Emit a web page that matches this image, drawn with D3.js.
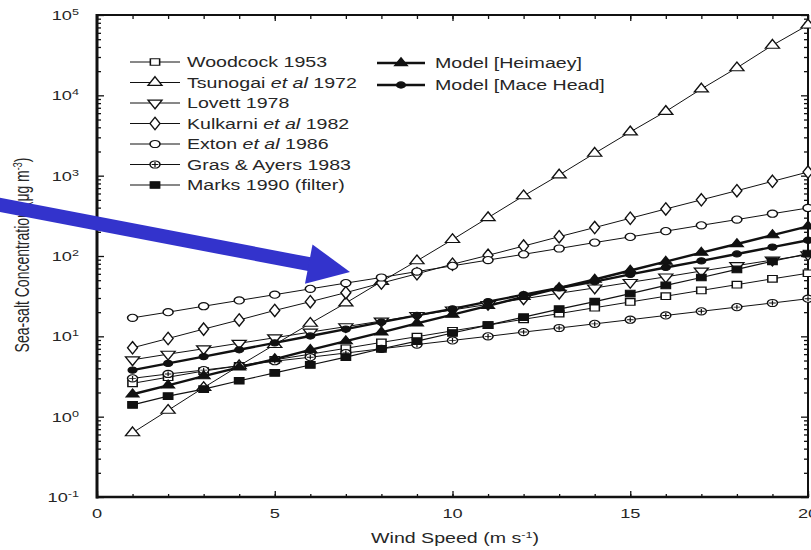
<!DOCTYPE html>
<html>
<head>
<meta charset="utf-8">
<script src="https://cdn.jsdelivr.net/npm/d3@7"></script>
<style>
  body { margin: 0; background: #fff; }
  svg { display: block; }
</style>
</head>
<body>
<div id="chart"></div>
<script>
// wind speed (m s-1) at which every curve is sampled
var windSpeed = [1, 2, 3, 4, 5, 6, 7, 8, 9, 10, 11, 12, 13, 14, 15, 16, 17, 18, 19, 20];

// sea-salt concentration (ug m-3)
var woodcock  = [2.6, 3.1, 3.7, 4.3, 5.1, 6.0, 7.1, 8.4, 9.9, 11.7, 13.8, 16.3, 19.2, 22.7, 26.8, 31.6, 37.3, 44, 52, 61];
var tsunogai  = [0.63, 1.2, 2.3, 4.3, 7.9, 14.5, 26, 48, 87, 160, 300, 560, 1020, 1900, 3500, 6300, 12000, 22000, 42000, 75000];
var lovett    = [5.1, 6.0, 7.0, 8.2, 9.6, 11.3, 13.2, 15.5, 18.2, 21.3, 25, 29.3, 34.4, 40, 47, 55, 65, 76, 89, 104];
var kulkarni  = [7.2, 9.4, 12.3, 16, 21, 27, 35, 46, 60, 79, 102, 133, 174, 226, 295, 385, 500, 650, 850, 1110];
var exton     = [17, 20, 23.7, 28, 33, 39, 46, 54, 64, 75.5, 89, 105, 124, 147, 173, 204, 241, 284, 336, 396];
var grasAyers = [3.0, 3.4, 3.8, 4.3, 4.9, 5.5, 6.2, 7.0, 7.9, 8.9, 10, 11.3, 12.7, 14.3, 16.1, 18.2, 20.5, 23.1, 26, 29.4];
var marks     = [1.4, 1.8, 2.2, 2.8, 3.5, 4.4, 5.5, 7.0, 8.7, 11, 13.8, 17.3, 21.8, 27, 34, 43, 54, 68, 86, 107];
var heimaey   = [1.9, 2.45, 3.2, 4.1, 5.2, 6.8, 8.7, 11.2, 14.5, 18.6, 24, 31, 40, 51, 66, 85, 110, 141, 182, 234];
var maceHead  = [3.8, 4.6, 5.6, 6.8, 8.3, 10.1, 12.3, 15, 18.2, 22, 27, 33, 40, 48, 59, 72, 87, 106, 129, 157];

var seriesNames = ['Woodcock 1953', 'Tsunogai et al 1972', 'Lovett 1978', 'Kulkarni et al 1982',
    'Exton et al 1986', 'Gras & Ayers 1983', 'Marks 1990 (filter)', 'Model [Heimaey]', 'Model [Mace Head]'];
var seriesValues = [woodcock, tsunogai, lovett, kulkarni, exton, grasAyers, marks, heimaey, maceHead];

var xTickLabels = ['0', '5', '10', '15', '20'];
var xTitle = 'Wind Speed (m s';
var yTitle = 'Sea-salt Concentration (\u03bcg m';

// look of each series, same order as the names
var markerTypes = ['square', 'triangle', 'triangleDown', 'diamond', 'circle', 'crossCircle', 'square', 'triangle', 'circle'];
var markerFilled = [false, false, false, false, false, false, true, true, true];
var lineWidths = [1, 1, 1, 1, 1, 1, 1.2, 2.4, 2.4];

var fullWidth = 811;
var fullHeight = 550;
var stretch = 1.4;   // the scan is wider than tall, text and markers with it
var mainFont = '"Liberation Sans", Arial, Helvetica, sans-serif';
var textColor = '#262626';
var lineColor = '#111';
var arrowColor = '#3333cc';

window.onload = function() {
    render();
};

function render() {
    var svg = d3.select('#chart').append('svg')
        .attr('width', fullWidth)
        .attr('height', fullHeight);

    var x = d3.scaleLinear().domain([0, 20]).range([97, 808]);
    var y = d3.scaleLog().domain([0.1, 1e5]).range([497, 15]);

    drawAxes(svg, x, y);

    // curves: thin ones first, the two model curves over them
    var line = d3.line()
        .x(function(d, i) { return x(windSpeed[i]); })
        .y(function(d) { return y(d); });

    var order = [0, 1, 2, 3, 4, 5, 6, 8, 7];
    order.forEach(function(s) {
        svg.append('path')
            .attr('d', line(seriesValues[s]))
            .attr('fill', 'none')
            .attr('stroke', lineColor)
            .attr('stroke-width', lineWidths[s]);
    });
    order.forEach(function(s) {
        seriesValues[s].forEach(function(v, i) {
            drawMarker(svg, s, x(windSpeed[i]), y(v));
        });
    });

    drawLegend(svg);
    drawArrow(svg);
}

function drawAxes(svg, x, y) {
    var xMinor = x.ticks(20);
    var xMajor = x.ticks(4);
    var yAll = y.ticks();
    var yMajor = yAll.filter(function(d) { return Math.abs(Math.log10(d) - Math.round(Math.log10(d))) < 1e-9; });
    var yMinor = yAll.filter(function(d) { return yMajor.indexOf(d) < 0; });

    // ticks on all four sides, pointing into the plot
    function tickSet(axis, pos, values, size) {
        var g = svg.append('g')
            .attr('transform', pos)
            .call(axis.tickValues(values).tickSize(size).tickSizeOuter(0).tickFormat(''));
        g.select('.domain').remove();
        g.selectAll('.tick line').attr('stroke', lineColor).attr('stroke-width', 1.3);
    }
    tickSet(d3.axisTop(x), 'translate(0,497)', xMinor, 3);
    tickSet(d3.axisTop(x), 'translate(0,497)', xMajor, 6);
    tickSet(d3.axisBottom(x), 'translate(0,15)', xMinor, 4);
    tickSet(d3.axisBottom(x), 'translate(0,15)', xMajor, 6);
    tickSet(d3.axisRight(y), 'translate(97,0)', yMinor, 4);
    tickSet(d3.axisRight(y), 'translate(97,0)', yMajor, 7);
    tickSet(d3.axisLeft(y), 'translate(808,0)', yMinor, 4);
    tickSet(d3.axisLeft(y), 'translate(808,0)', yMajor, 7);

    // frame
    svg.append('line').attr('x1', 97).attr('x2', 808).attr('y1', 15).attr('y2', 15)
        .attr('stroke', lineColor).attr('stroke-width', 2);
    svg.append('line').attr('x1', 808).attr('x2', 808).attr('y1', 14).attr('y2', 498)
        .attr('stroke', lineColor).attr('stroke-width', 2);
    svg.append('line').attr('x1', 96).attr('x2', 809).attr('y1', 497).attr('y2', 497)
        .attr('stroke', lineColor).attr('stroke-width', 2.5);
    svg.append('line').attr('x1', 97).attr('x2', 97).attr('y1', 14).attr('y2', 498.5)
        .attr('stroke', lineColor).attr('stroke-width', 3);

    // x tick labels
    xMajor.forEach(function(d, i) {
        stretchedText(svg, x(d), 518, 'middle', 13).text(xTickLabels[i]);
    });

    // y tick labels as powers of ten
    yMajor.forEach(function(d) {
        var t = stretchedText(svg, 79, y(d) + 5, 'end', 13);
        t.append('tspan').text('10');
        t.append('tspan')
            .attr('dy', -5)
            .style('font-size', '9px')
            .text(Math.round(Math.log10(d)) < 0 ? '-1' : Math.round(Math.log10(d)));
    });

    // axis titles
    var xt = stretchedText(svg, 455, 543, 'middle', 14);
    xt.append('tspan').text(xTitle);
    xt.append('tspan').attr('dy', -5).style('font-size', '9px').text('-1');
    xt.append('tspan').attr('dy', 5).text(')');

    var yt = svg.append('text')
        .attr('transform', 'translate(29,255) scale(' + stretch + ',1) rotate(-90)')
        .attr('text-anchor', 'middle')
        .style('font-family', mainFont)
        .style('font-size', '14px')
        .style('fill', textColor);
    yt.append('tspan').text(yTitle);
    yt.append('tspan').attr('dy', -5).style('font-size', '9px').text('-3');
    yt.append('tspan').attr('dy', 5).text(')');
}

function stretchedText(parent, x, y, anchor, size) {
    return parent.append('text')
        .attr('transform', 'translate(' + x + ',' + y + ') scale(' + stretch + ',1)')
        .attr('text-anchor', anchor)
        .style('font-family', mainFont)
        .style('font-size', size + 'px')
        .style('fill', textColor);
}

function drawMarker(svg, s, cx, cy) {
    var type = markerTypes[s];
    var symbols = {
        square: [d3.symbolSquare, 44],
        triangle: [d3.symbolTriangle, 44],
        triangleDown: [d3.symbolTriangle, 44],
        diamond: [d3.symbolDiamond, 44],
        circle: [d3.symbolCircle, 40],
        crossCircle: [d3.symbolCircle, 40]
    };
    if (markerFilled[s] && s > 6) {
        symbols.circle[1] = 30;
        symbols.triangle[1] = 36;
    }
    var sym = symbols[type];
    var tf = 'translate(' + cx + ',' + cy + ') scale(' + stretch + ',1)' +
        (type === 'triangleDown' ? ' rotate(180)' : '');
    var g = svg.append('g').attr('transform', tf);
    g.append('path')
        .attr('d', d3.symbol().type(sym[0]).size(sym[1])())
        .attr('fill', markerFilled[s] ? lineColor : '#fff')
        .attr('stroke', lineColor)
        .attr('stroke-width', 1.1);
    if (type === 'crossCircle') {
        g.append('path')
            .attr('d', 'M-2.4,0H2.4M0,-2.4V2.4')
            .attr('stroke', lineColor)
            .attr('stroke-width', 0.9);
    }
}

function drawLegend(svg) {
    // first column: seven published curves, second: the two models
    seriesNames.forEach(function(name, s) {
        var col = s < 7 ? 0 : 1;
        var row = col === 0 ? s : s - 7;
        var rowY = col === 0 ? 62 + row * 20.5 : 63 + row * 22;
        var x1 = col === 0 ? 130 : 377;
        var x2 = col === 0 ? 180 : 425;
        var textX = col === 0 ? 187 : 435;

        svg.append('line')
            .attr('x1', x1).attr('x2', x2)
            .attr('y1', rowY).attr('y2', rowY)
            .attr('stroke', lineColor)
            .attr('stroke-width', lineWidths[s]);
        drawMarker(svg, s, (x1 + x2) / 2, rowY);

        var t = stretchedText(svg, textX, rowY + 5, 'start', 14);
        var parts = name.split('et al');
        if (parts.length > 1) {
            t.append('tspan').text(parts[0]);
            t.append('tspan').style('font-style', 'italic').text('et al');
            t.append('tspan').text(parts[1]);
        } else {
            t.text(name);
        }
    });
}

function drawArrow(svg) {
    var start = [-10, 203];
    var tip = [350, 272];
    var dx = tip[0] - start[0];
    var dy = tip[1] - start[1];
    var len = Math.sqrt(dx * dx + dy * dy);
    var ux = dx / len, uy = dy / len;
    var headLength = 42, headHalf = 20;
    var base = [tip[0] - headLength * ux, tip[1] - headLength * uy];

    svg.append('line')
        .attr('x1', start[0]).attr('y1', start[1])
        .attr('x2', base[0] + 2 * ux).attr('y2', base[1] + 2 * uy)
        .attr('stroke', arrowColor)
        .attr('stroke-width', 14);
    svg.append('path')
        .attr('d', 'M' + tip[0] + ',' + tip[1] +
            'L' + (base[0] - headHalf * uy) + ',' + (base[1] + headHalf * ux) +
            'L' + (base[0] + headHalf * uy) + ',' + (base[1] - headHalf * ux) + 'Z')
        .attr('fill', arrowColor);
}
</script>
</body>
</html>
